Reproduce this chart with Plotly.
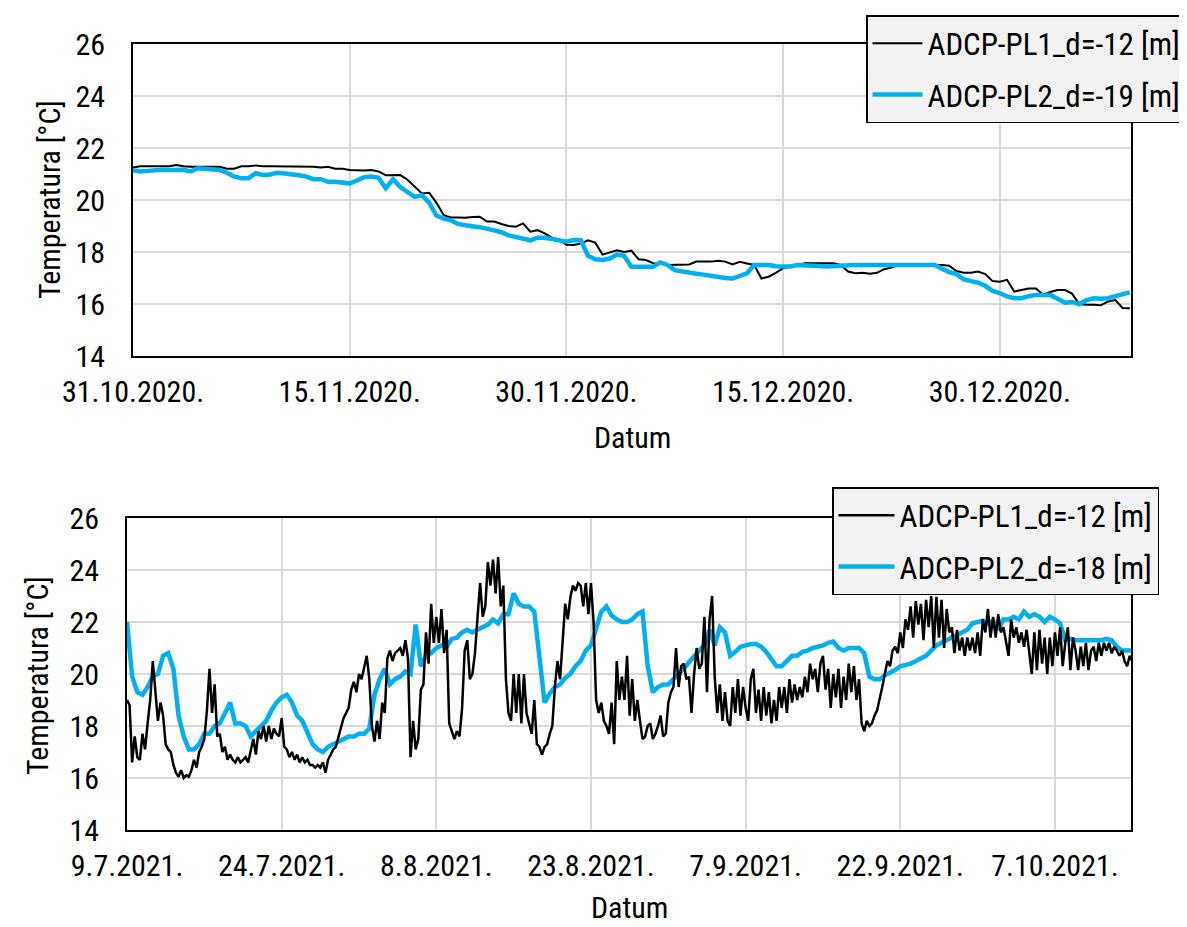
import plotly.graph_objects as go
import pandas as pd

# ---------------- data ----------------
top_start = "2020-10-31 00:00"      # samples every 12 h
bot_pl1_start = "2021-07-09 00:00"  # samples every 6 h
bot_pl2_start = "2021-07-09 00:00"  # samples every 12 h

top_pl1 = [
    21.25, 21.3, 21.3, 21.3, 21.3, 21.3, 21.35, 21.3, 21.28, 21.28, 21.28, 21.28, 21.28, 21.2, 21.2, 21.3,
    21.3, 21.33, 21.3, 21.3, 21.3, 21.3, 21.3, 21.3, 21.3, 21.28, 21.25, 21.28, 21.2, 21.2, 21.15, 21.13,
    21.13, 21.15, 21.1, 20.95,
    20.96, 20.96, 20.78, 20.5, 20.25, 20.28, 19.9, 19.42, 19.33, 19.33, 19.32, 19.35, 19.36, 19.17, 19.17,
    19.08, 19.0, 18.97, 19.1, 18.78, 18.84, 18.72, 18.55, 18.47, 18.28, 18.27, 18.33, 18.45, 18.36, 17.9,
    17.98, 18.07, 18.0, 18.05, 17.72, 17.69, 17.57, 17.56, 17.5, 17.5, 17.5, 17.52, 17.63, 17.63, 17.63,
    17.66, 17.63, 17.52, 17.62, 17.56, 17.5, 16.98, 17.05, 17.2, 17.38, 17.43, 17.5,
    17.57, 17.57, 17.57, 17.57, 17.57, 17.5, 17.25, 17.18, 17.2, 17.16, 17.2, 17.34, 17.4, 17.5, 17.5, 17.5,
    17.5, 17.5, 17.5, 17.5, 17.47, 17.27, 17.2, 17.2, 17.25, 17.15, 16.88, 16.86, 16.93, 16.48, 16.54, 16.6,
    16.6, 16.36, 16.46, 16.54, 16.54, 16.4, 16.0, 15.97, 15.97, 15.95, 16.1, 16.15, 15.85, 15.84,
]
top_pl2 = [
    21.15, 21.1, 21.12, 21.16, 21.16, 21.15, 21.16, 21.16, 21.1, 21.22, 21.2, 21.16, 21.15, 21.05, 20.9, 20.84,
    20.84, 21.03, 20.96, 20.98, 21.05, 21.02, 21.0, 20.95, 20.9, 20.8, 20.8, 20.7, 20.7, 20.65, 20.64, 20.75,
    20.88, 20.9, 20.85, 20.45,
    20.8, 20.5, 20.3, 20.12, 20.18, 19.9, 19.4, 19.28, 19.22, 19.08, 19.03, 18.97, 18.95, 18.9, 18.84, 18.76,
    18.64, 18.57, 18.48, 18.45, 18.55, 18.55, 18.5, 18.46, 18.4, 18.46, 18.45, 17.85, 17.72, 17.69, 17.75,
    17.9, 17.85, 17.43, 17.43, 17.43, 17.43, 17.6, 17.5, 17.3, 17.24, 17.2, 17.16, 17.13, 17.08, 17.05, 17.0,
    16.98, 17.1, 17.18, 17.5, 17.5, 17.5,
    17.45, 17.44, 17.44, 17.5, 17.5, 17.5, 17.46, 17.44, 17.46, 17.5, 17.5, 17.5, 17.5, 17.48, 17.5, 17.5,
    17.5, 17.5, 17.5, 17.5, 17.52, 17.5, 17.5, 17.36, 17.23, 17.15, 16.95, 16.88, 16.82, 16.7, 16.5, 16.42,
    16.29, 16.22, 16.22, 16.3, 16.35, 16.35, 16.35, 16.2, 16.05, 16.08, 16.0, 16.15, 16.22, 16.2, 16.22,
    16.3, 16.37, 16.45,
]
bot_pl1 = [
    19.0, 18.8, 16.6, 17.6, 16.8, 16.7, 17.7, 17.1, 18.1, 19.0, 20.5, 19.4, 18.2, 18.9, 18.4, 17.3,
    17.1, 17.0, 16.5, 16.2, 16.05, 16.3, 16.0, 16.1, 16.05, 16.3, 16.7, 16.4, 17.0, 17.2, 17.5, 18.6,
    20.2, 18.5, 19.6, 17.6, 17.7, 17.0, 17.2, 16.7, 16.9, 16.7, 16.6, 16.8, 16.6, 16.7, 16.8, 16.6,
    17.0, 17.5, 16.9, 17.8, 17.5, 18.0, 17.4, 18.0, 17.5, 17.9, 17.7, 17.6, 18.3, 17.2, 17.1, 16.8,
    17.0, 16.7, 16.9, 16.6, 16.8, 16.6, 16.7, 16.5, 16.5, 16.4, 16.5, 16.4, 16.6, 16.2, 16.7, 16.9,
    17.1, 17.2, 17.6, 18.0, 18.3, 18.5, 18.7, 19.4, 19.7, 19.3, 20.0, 19.8, 20.3, 20.7, 19.8, 18.0,
    17.4, 18.2, 17.5, 18.9, 18.5,
    20.6, 20.9, 20.5, 20.8, 20.9, 21.0, 20.7, 21.3, 20.6, 16.8, 18.2, 17.1, 17.5, 19.4, 19.6, 21.6,
    20.4, 22.7, 21.2, 22.2, 21.2, 22.5, 20.8, 21.7, 18.1, 17.8, 17.5, 17.8, 17.6, 18.7, 20.9, 21.3,
    19.8, 20.0, 20.8, 22.2, 23.5, 22.2, 22.6, 24.3, 23.4, 24.4, 23.1, 24.5, 22.6, 23.4, 19.8, 18.5,
    18.2, 20.0, 18.5, 20.0, 18.1, 20.0, 18.5, 18.1, 17.7, 19.0, 17.3, 17.2, 16.9, 17.2, 17.3, 17.7,
    18.0, 19.5, 20.5, 19.8, 21.3, 22.7, 22.1, 22.95, 23.4, 23.2, 23.5, 23.4, 22.6, 23.5, 22.3, 23.5,
    22.0, 19.0, 18.5, 18.9, 18.2, 18.0, 17.7, 18.9, 17.3, 20.5, 19.0, 19.9, 19.0, 20.7, 18.4, 19.8,
    18.2, 19.0, 18.2,
    17.5, 17.6, 18.0, 18.1, 17.5, 17.7, 18.0, 18.4, 17.6, 17.7, 18.9, 19.3, 19.5, 21.0, 19.5, 20.3,
    20.4, 19.8, 19.9, 18.5, 20.0, 21.0, 20.2, 20.4, 22.2, 19.3, 22.1, 23.0, 19.9, 18.5, 19.6, 18.2,
    19.3, 18.2, 18.0, 19.5, 18.5, 19.8, 18.4, 19.5, 18.7, 18.2, 19.8, 20.2, 18.5, 19.4, 18.2, 19.5,
    18.4, 19.3, 18.1, 19.0, 18.2, 19.5, 18.7, 19.5, 18.5, 19.8, 18.9, 19.6, 19.0, 19.5, 19.1, 19.9,
    19.3, 20.4, 19.8, 20.2, 19.3, 20.4, 20.7, 19.4, 20.2, 18.7, 20.0, 19.1, 20.2, 18.7, 19.9, 19.0,
    20.4, 19.3, 20.3, 19.0, 19.8, 18.1, 17.8, 18.2, 18.0, 18.1, 18.4, 18.6, 19.0, 19.5, 20.0, 20.5,
    20.3,
    20.9, 21.05, 20.8, 21.6, 21.0, 22.1, 21.7, 22.6, 21.4, 22.8, 21.9, 22.7, 21.3, 22.85, 21.8, 23.0,
    21.0, 22.97, 21.4, 22.85, 21.0, 22.5, 21.6, 21.8, 20.8, 21.7, 20.9, 21.4, 20.7, 21.4, 20.9, 21.4,
    20.8, 21.6, 20.7, 22.1, 21.6, 22.5, 21.4, 22.2, 21.4, 22.3, 21.6, 21.8, 21.2, 20.7, 22.1, 21.4,
    21.8, 21.2, 21.6, 21.05, 21.7, 20.8, 20.0, 21.6, 20.15, 21.7, 20.4, 21.4, 20.0, 21.4, 20.3, 21.6,
    20.7, 21.8, 20.3, 21.2, 21.8, 20.15, 21.4, 20.9, 20.15, 21.05, 20.3, 21.2, 20.15, 20.9, 21.05, 20.5,
    21.2, 20.7, 21.2, 20.9, 21.2, 20.8, 21.05, 20.9, 20.7, 20.9, 20.5, 20.3, 20.7, 20.5, 20.7,
]
bot_pl2 = [
    22.0, 19.9, 19.3, 19.2, 19.5, 19.9, 20.0, 20.7, 20.8, 20.2, 18.4, 17.6, 17.1, 17.1, 17.3, 17.7,
    17.7, 18.0, 18.1, 18.5, 18.9, 18.1, 18.1, 18.0, 17.6, 17.8, 18.0, 18.2, 18.6, 18.9, 19.1, 19.2,
    18.9, 18.4, 18.2, 17.7, 17.3, 17.1, 17.0, 17.2, 17.3, 17.4, 17.5, 17.6, 17.6, 17.7, 17.7, 17.9,
    19.2, 19.8, 20.2,
    19.6, 19.8, 19.9, 20.1, 20.0, 21.9, 20.3, 20.7, 20.8, 21.0, 21.1, 21.05, 21.35, 21.4, 21.6, 21.7,
    21.6, 21.7, 21.8, 21.9, 22.1, 21.95, 22.3, 22.3, 23.1, 22.7, 22.6, 22.6, 22.4, 20.5, 18.9, 19.25,
    19.5, 19.6, 19.85, 20.0, 20.3, 20.5, 20.9, 21.1, 21.7, 22.4, 22.6, 22.25, 22.1, 22.0, 22.0, 22.1,
    22.3,
    22.4, 20.3, 19.3, 19.5, 19.6, 19.6, 19.8, 19.95, 20.2, 20.45, 20.7, 20.9, 21.1, 21.7, 21.1, 21.8,
    21.6, 20.7, 20.85, 21.05, 21.1, 21.15, 21.15, 21.05, 20.85, 20.6, 20.3, 20.3, 20.5, 20.7, 20.7, 20.85,
    20.9, 21.0, 21.05, 21.1, 21.2, 21.25, 21.0, 20.9, 21.0, 21.0, 21.0, 20.8, 19.9, 19.8, 19.8, 19.95,
    20.05, 20.15, 20.3, 20.35, 20.4, 20.5, 20.6, 20.7, 20.9, 21.1, 21.2, 21.3, 21.4, 21.5, 21.6, 21.7,
    21.95, 22.0, 22.05, 21.95, 22.05, 21.7, 22.1, 22.1, 22.2, 22.1, 22.4, 22.2, 22.3, 22.2, 22.0, 22.2,
    22.1, 21.95, 21.3, 21.35, 21.3, 21.3, 21.3, 21.3, 21.3, 21.3, 21.35, 21.3, 21.05, 20.9, 20.9, 20.9,
]

top_ticks = ["2020-10-31", "2020-11-15", "2020-11-30", "2020-12-15", "2020-12-30"]
top_ticktext = ["31.10.2020.", "15.11.2020.", "30.11.2020.", "15.12.2020.", "30.12.2020."]
bot_ticks = ["2021-07-09", "2021-07-24", "2021-08-08", "2021-08-23", "2021-09-07", "2021-09-22", "2021-10-07"]
bot_ticktext = ["9.7.2021.", "24.7.2021.", "8.8.2021.", "23.8.2021.", "7.9.2021.", "22.9.2021.", "7.10.2021."]
top_range = ["2020-10-31 00:00", "2021-01-08 02:00"]
bot_range = ["2021-07-09 00:00", "2021-10-14 09:00"]

name_top_1 = "ADCP-PL1_d=-12 [m]"
name_top_2 = "ADCP-PL2_d=-19 [m]"
name_bot_1 = "ADCP-PL1_d=-12 [m]"
name_bot_2 = "ADCP-PL2_d=-18 [m]"

# ---------------- figure ----------------
OFF = 8                      # page body margin in the browser
W, H = 1187 - OFF, 927 - OFF
FONT = "Liberation Sans Narrow, Arial Narrow, Roboto Condensed, sans-serif"
BLUE = "#00B0F0"

t_top1 = pd.date_range(top_start, periods=len(top_pl1), freq="12h")
t_top2 = pd.date_range(top_start, periods=len(top_pl2), freq="12h")
t_bot1 = pd.date_range(bot_pl1_start, periods=len(bot_pl1), freq="6h")
t_bot2 = pd.date_range(bot_pl2_start, periods=len(bot_pl2), freq="12h")

fig = go.Figure()
fig.add_trace(go.Scatter(x=t_top1, y=top_pl1, mode="lines", name=name_top_1,
                         line=dict(color="black", width=2), xaxis="x", yaxis="y",
                         legend="legend", legendgroup="a"))
fig.add_trace(go.Scatter(x=t_top2, y=top_pl2, mode="lines", name=name_top_2,
                         line=dict(color=BLUE, width=4.5), xaxis="x", yaxis="y",
                         legend="legend", legendgroup="b"))
fig.add_trace(go.Scatter(x=t_bot2, y=bot_pl2, mode="lines", name=name_bot_2,
                         line=dict(color=BLUE, width=4.5), xaxis="x2", yaxis="y2",
                         legend="legend2", legendgroup="d", legendrank=2))
fig.add_trace(go.Scatter(x=t_bot1, y=bot_pl1, mode="lines", name=name_bot_1,
                         line=dict(color="black", width=2.5), xaxis="x2", yaxis="y2",
                         legend="legend2", legendgroup="c", legendrank=1))

def px_x(v):
    return (v - OFF) / W

def px_y(v):
    return (H - (v - OFF)) / H

axis_common = dict(showline=True, linecolor="black", linewidth=2, mirror=True,
                   showgrid=True, gridcolor="#D9D9D9", gridwidth=2, zeroline=False,
                   tickfont=dict(family=FONT, size=30, color="black"), ticks="",
                   automargin=False)

title_font = dict(family=FONT, size=30, color="black")

fig.update_layout(
    width=W, height=H, margin=dict(l=0, r=0, t=0, b=0, autoexpand=False),
    paper_bgcolor="white", plot_bgcolor="white",
    font=dict(family=FONT, color="black"),
    xaxis=dict(domain=[px_x(133), px_x(1131)], anchor="y", type="date", range=top_range,
               tickvals=top_ticks, ticktext=top_ticktext, ticklabelstandoff=8, **axis_common),
    yaxis=dict(domain=[px_y(356), px_y(44)], anchor="x", range=[14, 26], dtick=2,
               tick0=14, ticklabelstandoff=20, **axis_common),
    xaxis2=dict(domain=[px_x(127), px_x(1131)], anchor="y2", type="date", range=bot_range,
                tickvals=bot_ticks, ticktext=bot_ticktext, ticklabelstandoff=8, **axis_common),
    yaxis2=dict(domain=[px_y(830), px_y(518)], anchor="x2", range=[14, 26], dtick=2,
                tick0=14, ticklabelstandoff=20, **axis_common),
    legend=dict(x=1.0, y=px_y(15), xanchor="right", yanchor="top",
                bgcolor="#F2F2F2", bordercolor="black", borderwidth=1.5,
                font=dict(family=FONT, size=31, color="black"),
                itemwidth=50, tracegroupgap=8, traceorder="grouped"),
    legend2=dict(x=px_x(832), y=px_y(487), xanchor="left", yanchor="top",
                 bgcolor="#F2F2F2", bordercolor="black", borderwidth=1.5,
                 font=dict(family=FONT, size=31, color="black"),
                 itemwidth=56, tracegroupgap=8, traceorder="grouped"),
    annotations=[
        dict(text="Temperatura [°C]", x=px_x(50), y=px_y(200), xref="paper", yref="paper",
             xanchor="center", yanchor="middle",
             showarrow=False, textangle=-90, font=title_font),
        dict(text="Temperatura [°C]", x=px_x(37), y=px_y(676), xref="paper", yref="paper",
             xanchor="center", yanchor="middle",
             showarrow=False, textangle=-90, font=title_font),
        dict(text="Datum", x=px_x(632), y=px_y(437), xref="paper", yref="paper",
             xanchor="center", yanchor="middle", showarrow=False, font=title_font),
        dict(text="Datum", x=px_x(629), y=px_y(907), xref="paper", yref="paper",
             xanchor="center", yanchor="middle", showarrow=False, font=title_font),
    ],
)

fig.write_html("out.html")
